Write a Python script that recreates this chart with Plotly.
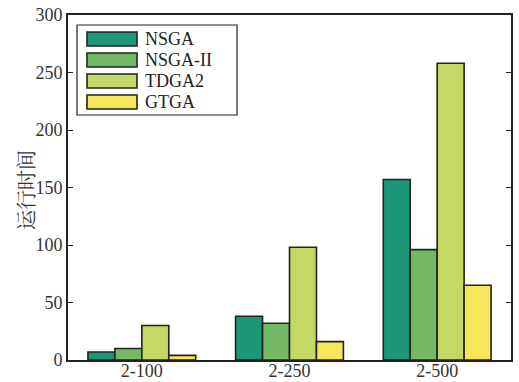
import plotly.graph_objects as go

# Running time of each algorithm per problem size
categories = ["2-100", "2-250", "2-500"]
algorithms = ["NSGA", "NSGA-II", "TDGA2", "GTGA"]
nsga = [7, 38, 157]
nsga2 = [10, 32, 96]
tdga2 = [30, 98, 258]
gtga = [4, 16, 65]
series = [nsga, nsga2, tdga2, gtga]
colors = ["#1b9677", "#74b866", "#c4d865", "#f5e65a"]
y_ticks = [0, 50, 100, 150, 200, 250, 300]
y_title = "运行时间"

W, H = 519, 382
ML, MR, MT, MB = 68, 8, 15, 22
PW, PH = W - ML - MR, H - MT - MB

fig = go.Figure()
for name, vals, col in zip(algorithms, series, colors):
    fig.add_trace(go.Bar(
        x=categories, y=vals, name=name, showlegend=False,
        marker=dict(color=col, line=dict(color="#222222", width=1.6)),
    ))

serif = "Liberation Serif, DejaVu Serif, serif"


def px_x(px):
    return (px - ML) / PW


def px_y(py):
    return (H - MB - py) / PH


# Legend drawn as a framed box with wide swatches
shapes = [dict(type="rect", xref="paper", yref="paper",
               x0=px_x(77), x1=px_x(237), y0=px_y(115), y1=px_y(25),
               line=dict(color="#222222", width=1.2), fillcolor="white")]
annotations = []
row_centers = [39, 60, 81, 102]
for name, col, cy in zip(algorithms, colors, row_centers):
    shapes.append(dict(type="rect", xref="paper", yref="paper",
                       x0=px_x(87), x1=px_x(137), y0=px_y(cy + 7), y1=px_y(cy - 7),
                       line=dict(color="#222222", width=1.6), fillcolor=col))
    annotations.append(dict(xref="paper", yref="paper", x=px_x(143), y=px_y(cy),
                            text=name, showarrow=False, xanchor="left", yanchor="middle",
                            font=dict(family=serif, size=18, color="#222222")))

# Vertical y-axis title
annotations.append(dict(xref="paper", yref="paper", x=px_x(25), y=px_y(190),
                        text=y_title, textangle=-90, showarrow=False,
                        xanchor="center", yanchor="middle",
                        font=dict(family="Noto Serif CJK SC, Noto Sans CJK SC", size=20,
                                  color="#333333")))

fig.update_layout(
    width=W, height=H,
    margin=dict(l=ML, r=MR, t=MT, b=MB),
    paper_bgcolor="white", plot_bgcolor="white",
    barmode="group", bargap=0.27, bargroupgap=0,
    shapes=shapes, annotations=annotations,
    font=dict(family=serif, size=18, color="#222222"),
)
fig.update_xaxes(
    automargin=False, ticklabelstandoff=-6,
    showline=True, linecolor="#222222", linewidth=1.6, mirror=True,
    ticks="", showgrid=False, tickfont=dict(family=serif, size=18, color="#333333"),
)
fig.update_yaxes(
    automargin=False,
    range=[0, 300], tickvals=y_ticks, ticktext=[str(v) for v in y_ticks],
    showline=True, linecolor="#222222", linewidth=1.6, mirror="ticks",
    ticks="inside", ticklen=5, tickcolor="#222222", showgrid=False, zeroline=False,
    tickfont=dict(family=serif, size=18, color="#333333"),
)

fig.write_html("out.html")
